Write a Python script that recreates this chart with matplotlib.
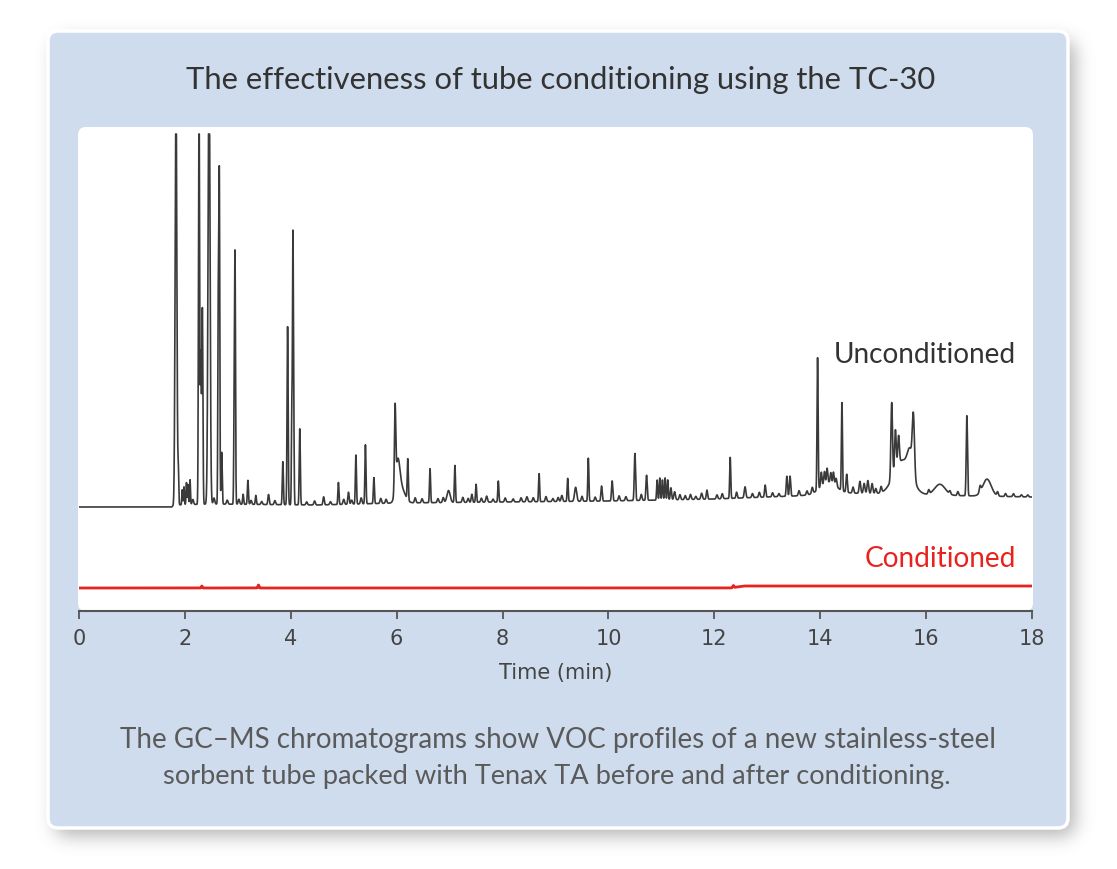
import numpy as np
import matplotlib.pyplot as plt
from matplotlib.patches import FancyBboxPatch

# peak table for the unconditioned tube: retention time (min), height, width (min)
unc_times = [1.832, 1.876, 1.95, 1.983, 2.03, 2.06, 2.097, 2.267, 2.30, 2.33,
             2.456, 2.63, 2.65, 2.695, 2.93, 2.947, 3.10, 3.19, 3.34, 3.58,
             3.85, 3.94, 4.02, 4.04, 4.055, 4.17, 4.62, 4.90, 5.09, 5.23,
             5.41, 5.57, 5.97, 6.02, 6.09, 6.21, 6.63, 6.98, 7.10, 7.42,
             7.50, 7.70, 7.92, 8.46, 8.69, 9.12, 9.23, 9.38, 9.62, 9.87,
             10.07, 10.50, 10.72, 10.92, 10.97, 11.02, 11.07, 11.12, 11.18, 11.25,
             11.76, 11.86, 12.30, 12.42, 12.58, 12.96, 13.37, 13.43, 13.95, 14.02,
             14.08, 14.13, 14.20, 14.25, 14.30, 14.15, 14.41, 14.50, 14.75, 14.83,
             14.90, 14.98, 15.35, 15.42, 15.48, 15.55, 15.70, 15.76, 16.26, 16.77,
             17.02, 17.15]
unc_heights = [420, 33, 15, 18, 22, 20, 25, 420, 150, 195,
               460, 190, 330, 52, 80, 245, 10, 24, 9, 10,
               43, 178, 95, 255, 90, 76, 8, 22, 12, 49,
               59, 26, 80, 36, 14, 41, 34, 12, 37, 8,
               18, 6, 21, 5, 28, 6, 23, 14, 43, 15,
               20, 47, 25, 20, 22, 20, 22, 20, 12, 8,
               6, 9, 41, 6, 11, 12, 20, 20, 132, 14,
               12, 14, 10, 12, 8, 12, 88, 18, 12, 10,
               13, 10, 76, 40, 28, 34, 24, 56, 11, 80,
               6, 17]
unc_widths = [0.016, 0.008, 0.008, 0.008, 0.008, 0.008, 0.008, 0.010, 0.010, 0.010,
              0.018, 0.008, 0.009, 0.010, 0.008, 0.009, 0.010, 0.010, 0.010, 0.012,
              0.010, 0.010, 0.008, 0.008, 0.008, 0.010, 0.012, 0.010, 0.012, 0.010,
              0.010, 0.010, 0.012, 0.040, 0.070, 0.010, 0.010, 0.030, 0.010, 0.012,
              0.010, 0.015, 0.010, 0.015, 0.010, 0.015, 0.010, 0.020, 0.010, 0.012,
              0.012, 0.012, 0.012, 0.010, 0.010, 0.010, 0.010, 0.010, 0.012, 0.015,
              0.015, 0.012, 0.010, 0.012, 0.015, 0.012, 0.012, 0.012, 0.010, 0.012,
              0.012, 0.012, 0.012, 0.012, 0.015, 0.150, 0.010, 0.012, 0.015, 0.015,
              0.015, 0.015, 0.015, 0.015, 0.015, 0.160, 0.050, 0.020, 0.100, 0.012,
              0.015, 0.080]
# small baseline wiggles read between the main peaks (time, height)
minor_times = [2.15, 2.55, 2.80, 3.02, 3.25, 3.45, 3.70, 4.30, 4.45, 4.75,
               5.00, 5.15, 5.33, 5.70, 5.80, 6.35, 6.48, 6.78, 6.88, 7.25,
               7.35, 7.60, 7.82, 8.05, 8.20, 8.35, 8.58, 8.82, 8.95, 9.05,
               9.50, 9.75, 10.20, 10.33, 10.62, 11.35, 11.45, 11.55, 11.65, 12.05,
               12.15, 12.72, 12.85, 13.10, 13.22, 13.60, 13.75, 13.85, 14.62, 15.05,
               15.15, 16.05, 16.45, 16.60, 17.35, 17.50, 17.65, 17.80, 17.92]
minor_heights = [5, 6, 4, 5, 4, 3, 4, 3, 4, 3,
                 5, 4, 6, 5, 4, 5, 4, 4, 5, 5,
                 4, 4, 3, 4, 3, 4, 4, 5, 3, 4,
                 5, 4, 5, 4, 6, 5, 4, 5, 3, 4,
                 5, 4, 5, 4, 3, 5, 4, 6, 6, 5,
                 6, 4, 3, 4, 4, 3, 3, 2, 2]
unc_base_t = [0, 1.75, 1.80, 2.5, 4.5, 6.0, 8.0, 10.0, 12.0, 13.5, 14.5, 16.0, 18.0]
unc_base_y = [0, 0, 2, 3, 2, 4, 5, 6, 8, 11, 14, 12, 10]

# conditioned tube: almost flat trace, drawn lower
cond_times = [2.32, 3.39, 12.36]
cond_heights = [2, 3, 2]
cond_base_t = [0, 12.30, 12.55, 18.0]
cond_base_y = [-81, -81, -79, -79]

t = np.linspace(0, 18, 9001)


def trace(times, heights, widths, bt, by):
    y = np.interp(t, bt, by)
    for c, h, w in zip(times, heights, widths):
        y = y + h * np.exp(-0.5 * ((t - c) / w) ** 2)
    return y


unc = trace(unc_times + minor_times, unc_heights + minor_heights,
            unc_widths + [0.014] * len(minor_times), unc_base_t, unc_base_y)
unc = np.minimum(unc, 373)
cond = trace(cond_times, cond_heights, [0.01] * len(cond_times), cond_base_t, cond_base_y)

fig = plt.figure(figsize=(11.17, 8.70), dpi=100)
bg = fig.add_axes([0, 0, 1, 1])
bg.set_xlim(0, 1117)
bg.set_ylim(870, 0)
bg.axis('off')

# soft blurred shadow behind the panel
yy, xx = np.mgrid[0:870, 0:1117] + 0.5
cx, cy, hw, hh, r = 48 + 510 + 7, 32 + 398 + 9, 510, 398, 12
dx = np.maximum(np.abs(xx - cx) - (hw - r), 0)
dy = np.maximum(np.abs(yy - cy) - (hh - r), 0)
mask = (np.hypot(dx, dy) <= r).astype(float)
k = np.exp(-0.5 * (np.arange(-30, 31) / 9.0) ** 2)
k /= k.sum()
mask = np.apply_along_axis(lambda v: np.convolve(v, k, mode='same'), 1, mask)
mask = np.apply_along_axis(lambda v: np.convolve(v, k, mode='same'), 0, mask)
shadow = np.zeros((870, 1117, 4))
shadow[..., :3] = 0.35
shadow[..., 3] = 0.45 * mask
bg.imshow(shadow, extent=[0, 1117, 870, 0], interpolation='bilinear', zorder=0)
bg.set_xlim(0, 1117)
bg.set_ylim(870, 0)

bg.add_patch(FancyBboxPatch((48, 32), 1020, 797, boxstyle="round,pad=0,rounding_size=10",
                            fc='#cfdcee', ec='white', lw=2.5, zorder=1))
bg.add_patch(FancyBboxPatch((78, 128), 955, 484, boxstyle="round,pad=0,rounding_size=8",
                            fc='white', ec='none', zorder=2))

font = ['Lato', 'DejaVu Sans']
bg.text(561, 80, 'The effectiveness of tube conditioning using the TC-30',
        ha='center', va='center', fontsize=22.3, color='#333333', family=font, zorder=3)
bg.text(558, 740, 'The GC\u2013MS chromatograms show VOC profiles of a new stainless-steel',
        ha='center', va='center', fontsize=20, color='#5a5a5a', family=font, zorder=3)
bg.text(557, 777, 'sorbent tube packed with Tenax TA before and after conditioning.',
        ha='center', va='center', fontsize=19.6, color='#5a5a5a', family=font, zorder=3)

ax = fig.add_axes([79 / 1117, 1 - 612 / 870, 953 / 1117, 484 / 870])
ax.patch.set_alpha(0)
ax.plot(t, unc, color='#3a3a3a', lw=1.2)
ax.plot(t, cond, color='#e8231f', lw=2)
ax.text(17.7, 508 - 355, 'Unconditioned', ha='right', va='center', fontsize=20.2,
        color='#333333', family=font)
ax.text(17.7, 508 - 559, 'Conditioned', ha='right', va='center', fontsize=20.2,
        color='#e8231f', family=font)

ax.set_xlim(0, 18)
ax.set_ylim(-104, 380)
ax.set_yticks([])
for s in ['top', 'left', 'right']:
    ax.spines[s].set_visible(False)
ax.spines['bottom'].set_color('#555555')
ax.spines['bottom'].set_linewidth(1.5)
ax.set_xticks(range(0, 19, 2))
ax.tick_params(axis='x', direction='out', length=6, width=1.3, color='#555555',
               labelsize=15, labelcolor='#444444', pad=6)
narrow = ['Liberation Sans Narrow', 'DejaVu Sans']
for lab in ax.get_xticklabels():
    lab.set_family(narrow)
ax.set_xlabel('Time (min)', fontsize=15, color='#444444', family=narrow, labelpad=10)

fig.savefig('out.png', dpi=100)
